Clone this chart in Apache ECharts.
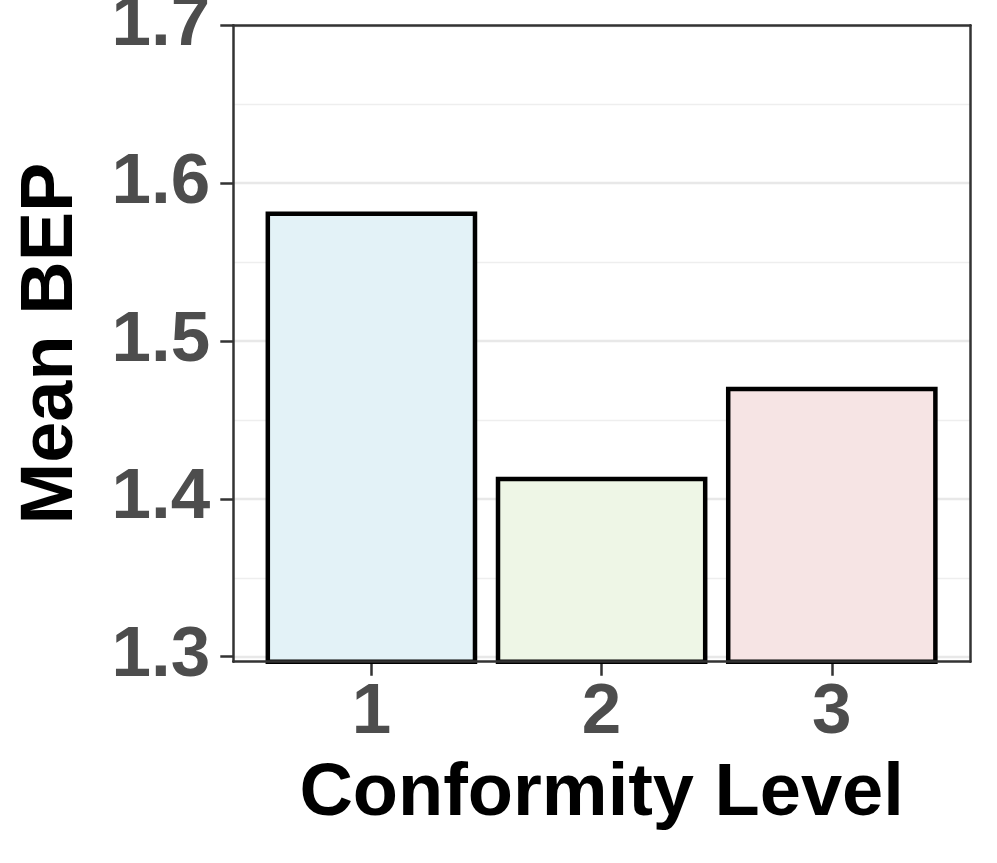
<!DOCTYPE html>
<html>
<head>
<meta charset="utf-8">
<script src="https://cdn.jsdelivr.net/npm/echarts@6/dist/echarts.min.js"></script>
<style>
  html, body { margin: 0; padding: 0; background: #ffffff; }
  #chart { width: 997px; height: 863px; }
</style>
</head>
<body>
<div id="chart"></div>
<script>
// ---- data ----
const categories = ['1', '2', '3'];
const meanBEP = [1.582, 1.414, 1.471];
const barColors = ['#e3f2f7', '#eef6e6', '#f6e4e4'];
const yTicks = [1.3, 1.4, 1.5, 1.6, 1.7];
const xTitle = 'Conformity Level';
const yTitle = 'Mean BEP';

const FONT = "'Liberation Sans', Arial, Helvetica, sans-serif";
const yMinPanel = 1.2968;   // panel extends slightly below lowest tick
const yMax = yTicks[yTicks.length - 1];

const chart = echarts.init(document.getElementById('chart'), null, { renderer: 'canvas' });

const panel = { left: 233.3, top: 25.3, width: 737, height: 636.4 };
const frameLine = { show: true, onZero: false, lineStyle: { color: '#333333', width: 2.5 } };

// ECharts insets bar borders; shift the bar grid by half a border so the
// stroke is centred on the value like ggplot draws it.
const BORDER = 4.5;
const half = BORDER / 2;
const pxPerUnit = panel.height / (yMax - yMinPanel);
const barBand = 690.6 / categories.length;

const option = {
  backgroundColor: '#ffffff',
  animation: false,
  grid: [
    { left: panel.left, top: panel.top, width: panel.width, height: panel.height, containLabel: false, outerBoundsMode: 'none' },
    { left: panel.left, top: panel.top, width: panel.width, height: 631.4, containLabel: false, outerBoundsMode: 'none' },
    { left: 256.3, top: panel.top - half, width: 690.6, height: panel.height + half, containLabel: false, outerBoundsMode: 'none' }
  ],
  xAxis: [
    { gridIndex: 0, type: 'value', min: 0, max: 1, position: 'bottom', z: 10,
      axisLine: frameLine, axisTick: { show: false }, axisLabel: { show: false }, splitLine: { show: false } },
    { gridIndex: 0, type: 'value', min: 0, max: 1, position: 'top', z: 10,
      axisLine: frameLine, axisTick: { show: false }, axisLabel: { show: false }, splitLine: { show: false } },
    { gridIndex: 1, type: 'value', min: 0, max: 1, show: false },
    { gridIndex: 2, type: 'category', data: categories, position: 'bottom',
      axisLine: { show: false, onZero: false },
      axisTick: { show: true, alignWithLabel: true, length: 14, lineStyle: { color: '#333333', width: 2.5 } },
      axisLabel: { show: true, margin: 16, color: '#4d4d4d', fontSize: 71, fontWeight: 'bold', fontFamily: FONT },
      splitLine: { show: false },
      name: xTitle, nameLocation: 'middle', nameGap: 96,
      nameTextStyle: { color: '#000000', fontSize: 74, fontWeight: 'bold', fontFamily: FONT }
    }
  ],
  yAxis: [
    { gridIndex: 0, type: 'value', min: 0, max: 1, position: 'left', z: 10,
      axisLine: frameLine, axisTick: { show: false }, axisLabel: { show: false }, splitLine: { show: false },
      name: yTitle, nameLocation: 'middle', nameGap: 145,
      nameTextStyle: { color: '#000000', fontSize: 74, fontWeight: 'bold', fontFamily: FONT }
    },
    { gridIndex: 0, type: 'value', min: 0, max: 1, position: 'right', z: 10,
      axisLine: frameLine, axisTick: { show: false }, axisLabel: { show: false }, splitLine: { show: false } },
    { gridIndex: 1, type: 'value', min: yTicks[0], max: yMax, interval: 0.1, position: 'left',
      axisLine: { show: false, onZero: false },
      axisTick: { show: true, length: 13, lineStyle: { color: '#333333', width: 2.5 } },
      axisLabel: { show: true, margin: 23, color: '#4d4d4d', fontSize: 71, fontWeight: 'bold', fontFamily: FONT,
        formatter: v => v.toFixed(1) },
      splitLine: { show: true, lineStyle: { color: '#e8e8e8', width: 2.4 } },
      minorTick: { show: false, splitNumber: 2 },
      minorSplitLine: { show: true, lineStyle: { color: '#eeeeee', width: 1.4 } }
    },
    { gridIndex: 2, type: 'value', min: yMinPanel, max: yMax + half / pxPerUnit, show: false }
  ],
  series: [
    {
      type: 'bar',
      xAxisIndex: 3,
      yAxisIndex: 3,
      barWidth: barBand * 0.9 + BORDER,
      clip: true,
      z: 5,
      data: meanBEP.map((v, i) => ({
        value: v,
        itemStyle: { color: barColors[i], borderColor: '#000000', borderWidth: BORDER }
      }))
    }
  ]
};

chart.setOption(option);
</script>
</body>
</html>
